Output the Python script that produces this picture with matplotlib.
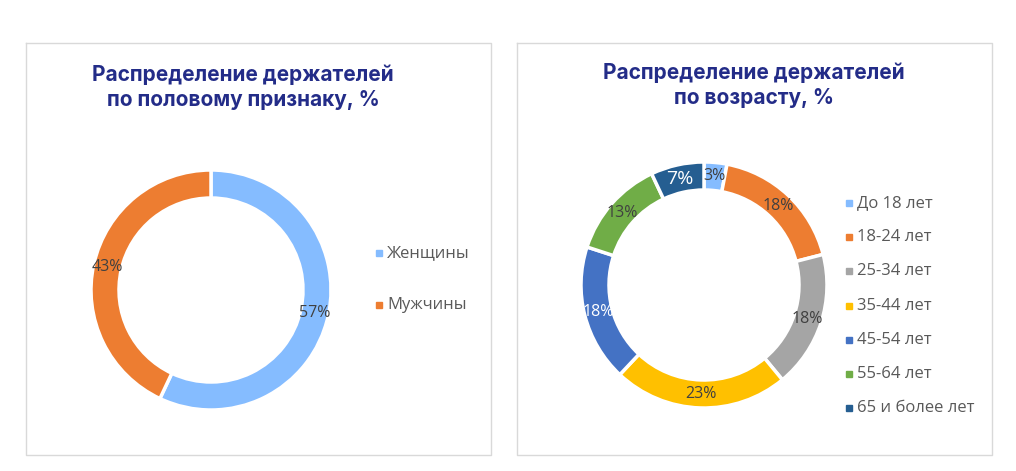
import matplotlib.pyplot as plt
import numpy as np

# Data
gender_labels = ['Женщины', 'Мужчины']
gender_values = [57, 43]
gender_colors = ['#85BCFF', '#ED7D31']

age_labels = ['До 18 лет', '18-24 лет', '25-34 лет', '35-44 лет',
              '45-54 лет', '55-64 лет', '65 и более лет']
age_values = [3, 18, 18, 23, 18, 13, 7]
age_colors = ['#85BCFF', '#ED7D31', '#A5A5A5', '#FFC000',
              '#4472C4', '#70AD47', '#255E91']

W, H = 1016, 471
TITLE_COLOR = '#232C88'
LABEL_FONT = ['Open Sans', 'DejaVu Sans']
TITLE_FONT = ['Inter', 'DejaVu Sans']

fig = plt.figure(figsize=(W / 100, H / 100), dpi=100)

# overlay axes in pixel coordinates (origin top-left) for frames, titles, legends
bg = fig.add_axes([0, 0, 1, 1])
bg.set_xlim(0, W)
bg.set_ylim(H, 0)
bg.axis('off')


def px_axes(cx, cy, r):
    pad = r + 6
    ax = fig.add_axes([(cx - pad) / W, (H - cy - pad) / H, 2 * pad / W, 2 * pad / H])
    return ax, pad


def donut(cx, cy, values, colors, r, w, white_idx=(), big_idx=()):
    ax, pad = px_axes(cx, cy, r)
    wedges, _ = ax.pie(values, colors=colors, radius=r, startangle=90,
                       counterclock=False,
                       wedgeprops=dict(width=w, edgecolor='white', linewidth=2.5))
    ax.set_xlim(-pad, pad)
    ax.set_ylim(-pad, pad)
    ax.set_aspect('equal')
    ax.axis('off')
    for i, (wd, v) in enumerate(zip(wedges, values)):
        ang = np.deg2rad((wd.theta1 + wd.theta2) / 2)
        rr = r - w / 2
        col = 'white' if i in white_idx else '#404040'
        fs = 14 if i in big_idx else 11.5
        ax.text(rr * np.cos(ang), rr * np.sin(ang), f'{v}%', ha='center', va='center',
                fontsize=fs, color=col, family=LABEL_FONT)
    return wedges


def legend(labels, colors, x, y0, step):
    for i, (lab, col) in enumerate(zip(labels, colors)):
        y = y0 + i * step
        bg.plot([x], [y], marker='s', markersize=5, color=col, linestyle='none')
        bg.text(x + 8, y, lab, ha='left', va='center',
                fontsize=12, color='#595959', family=LABEL_FONT)


# panel borders
for x0, x1 in [(26, 491), (517, 992)]:
    bg.plot([x0, x1, x1, x0, x0], [43, 43, 455, 455, 43], color='#D9D9D9', linewidth=1)

# left chart: gender
donut(211, 290, gender_values, gender_colors, 120, 28)
bg.text(243, 87, 'Распределение держателей\nпо половому признаку, %',
        ha='center', va='center', fontsize=15, fontweight='bold',
        color=TITLE_COLOR, family=TITLE_FONT, linespacing=1.3)
legend(gender_labels, gender_colors, 379, 253, 52)

# right chart: age
donut(704, 285, age_values, age_colors, 123, 28, white_idx=(4, 6), big_idx=(6,))
bg.text(754, 85, 'Распределение держателей\nпо возрасту, %',
        ha='center', va='center', fontsize=15, fontweight='bold',
        color=TITLE_COLOR, family=TITLE_FONT, linespacing=1.3)
legend(age_labels, age_colors, 849, 203, 34.2)

fig.savefig('out.png', dpi=100, facecolor='white')
